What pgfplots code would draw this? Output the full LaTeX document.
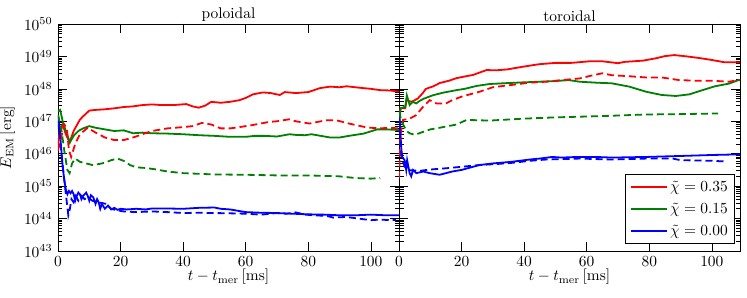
\documentclass[border=0pt]{standalone}
\usepackage{pgfplots}
\pgfplotsset{compat=1.18}
\definecolor{mred}{RGB}{255,0,0}
\definecolor{mgreen}{RGB}{0,128,0}
\definecolor{mblue}{RGB}{0,0,255}
\tikzset{sl/.style={line width=1.8bp}, dsh/.style={line width=1.8bp, dash pattern=on 7bp off 4bp}}
\newcommand{\lgdtxt}[1]{\scalebox{1.55}{#1}}
\pgfplotsset{
  myaxis/.style={
    scale only axis, width=341bp, height=227bp,
    xmin=0, xmax=109, ymin=1e43, ymax=1e50,
    xtick={0,20,40,60,80,100},
    ytick={1e43,1e44,1e45,1e46,1e47,1e48,1e49,1e50},
    tick align=inside, major tick length=9bp, minor tick length=4.5bp,
    axis line style={black, line width=0.8pt},
    every tick/.style={black, line width=0.6pt},
    tick label style={scale=1.55},
    label style={scale=1.55},
    title style={scale=1.55, yshift=-6bp},
    xlabel={$t - t_{\rm mer}\,[\rm ms]$},
    xlabel style={yshift=5bp},
  },
}
\begin{document}
\begin{tikzpicture}
\path[use as bounding box] (-58bp,-47bp) rectangle (689bp,251bp);
\begin{semilogyaxis}[myaxis, title={poloidal}, ylabel={$E_{\rm EM}\,[\rm erg]$}, ylabel style={yshift=-1bp}]
\addplot[mred, sl, no markers] coordinates {
(0,1.58e46)(0.5,5.01e46)(1.5,7.94e46)(2.5,3.98e46)(3.7,2.24e46)(5,5.01e46)(7,1.12e47)(8,1.41e47)(10,2.14e47)(12,2.24e47)(15,2.34e47)(18,2.51e47)(21,2.75e47)(24,2.88e47)(27,3.16e47)(30,3.31e47)(33,3.16e47)(37,3.16e47)(41,3.39e47)(43,2.88e47)(45,2.63e47)(47,3.02e47)(49,3.98e47)(52,3.72e47)(55,3.98e47)(58,4.47e47)(60,5.25e47)(62.3,6.76e47)(65.5,7.76e47)(68,7.41e47)(70.9,6.46e47)(72.5,7.94e47)(76,7.41e47)(80,7.94e47)(83.7,1.05e48)(87,1.17e48)(90,1.12e48)(92.3,1.20e48)(95,1.12e48)(97.7,1.05e48)(100,1.0e48)(103,9.12e47)(106,8.91e47)(108.5,8.32e47)(109,8.32e47)};
\addplot[mgreen, sl, no markers] coordinates {
(0,2.0e47)(0.7,2.24e47)(1.5,1.0e47)(2.5,5.01e46)(3.8,2.24e46)(5,3.55e46)(6.5,5.01e46)(8,6.03e46)(10,7.08e46)(12,6.31e46)(15,5.62e46)(18,5.01e46)(21,5.25e46)(24,4.27e46)(27,4.47e46)(30,4.27e46)(35,4.17e46)(40,3.98e46)(45,3.72e46)(50,3.55e46)(55,3.31e46)(60,3.31e46)(63,3.55e46)(66,3.55e46)(70,3.39e46)(74,3.98e46)(76,3.80e46)(79,3.72e46)(81,3.98e46)(84,3.55e46)(87,3.16e46)(90,3.16e46)(93,3.55e46)(97.7,4.17e46)(102,5.62e46)(105,5.62e46)(109,5.37e46)};
\addplot[mblue, sl, no markers] coordinates {
(0,1.58e47)(0.5,6.31e46)(1,1.58e46)(1.5,3.98e45)(2,1.58e45)(2.5,7.94e44)(3,5.62e44)(3.5,7.08e44)(4,6.03e44)(4.5,7.08e44)(5,5.62e44)(5.5,3.55e44)(6,5.01e44)(6.5,6.31e44)(7,5.62e44)(7.5,3.98e44)(8,5.01e44)(9,6.31e44)(9.5,5.01e44)(10,3.55e44)(10.5,5.25e44)(11.3,4.47e44)(12,2.82e44)(12.5,3.98e44)(13,3.16e44)(13.5,2.0e44)(14,2.82e44)(15,2.0e44)(16,2.51e44)(17,1.91e44)(18,2.14e44)(19,1.86e44)(20,2.0e44)(22,1.91e44)(25,2.0e44)(28,1.91e44)(30,2.04e44)(35,2.04e44)(40,2.0e44)(45,2.14e44)(50,2.19e44)(52,2.0e44)(55,1.91e44)(60,1.58e44)(65,1.51e44)(70,1.48e44)(75,1.41e44)(80,1.35e44)(85,1.32e44)(90,1.26e44)(95,1.26e44)(100,1.32e44)(105,1.26e44)(109,1.26e44)};
\addplot[mred, dsh, no markers] coordinates {
(0,1.26e46)(1,3.16e46)(2,7.94e46)(2.8,6.31e46)(3.5,1.26e46)(4.2,7.94e45)(5.5,2.0e46)(7,3.98e46)(9.5,6.31e46)(12,4.47e46)(15,3.16e46)(18,2.63e46)(21,2.63e46)(24,3.16e46)(27,3.98e46)(30,5.01e46)(35,6.03e46)(40,6.61e46)(43,7.08e46)(46,8.91e46)(49,7.94e46)(52,6.03e46)(55,6.03e46)(58,6.61e46)(62,7.59e46)(67.5,9.55e46)(70,1.0e47)(73.9,1.15e47)(76,1.0e47)(80.4,8.51e46)(83,9.55e46)(85.7,1.07e47)(89,1.07e47)(93,8.51e46)(97.7,6.76e46)(100,6.31e46)(103,6.03e46)(106,6.31e46)(109,6.03e46)};
\addplot[mgreen, dsh, no markers] coordinates {
(0,1.58e47)(1,6.31e46)(2,1.26e46)(3,3.16e45)(3.7,2.51e45)(4.5,5.01e45)(5.5,7.08e45)(7,5.62e45)(9,5.01e45)(11,4.47e45)(13,4.79e45)(15,5.25e45)(17,6.31e45)(19,7.08e45)(21,6.03e45)(23,4.47e45)(25,3.80e45)(28,3.63e45)(31,3.31e45)(35,2.82e45)(40,2.51e45)(45,2.40e45)(50,2.29e45)(60,2.24e45)(70,2.14e45)(80,2.14e45)(90,2.0e45)(95,1.78e45)(100,1.70e45)(103,1.78e45)};
\addplot[mblue, dsh, no markers] coordinates {
(0,1.0e47)(0.6,3.16e46)(1.2,7.94e45)(2,1.58e45)(2.7,3.98e44)(3.3,1.26e44)(3.8,2.0e44)(4.3,3.98e44)(5,3.16e44)(5.7,5.01e44)(6.5,3.55e44)(7.5,5.01e44)(8.5,3.98e44)(9.5,4.47e44)(11,3.55e44)(12.5,3.16e44)(14,3.02e44)(15.5,2.82e44)(17,2.0e44)(19,1.78e44)(21,1.66e44)(25,1.58e44)(30,1.66e44)(35,1.58e44)(40,1.48e44)(45,1.51e44)(50,1.48e44)(55,1.45e44)(60,1.41e44)(65,1.32e44)(70,1.48e44)(73,1.41e44)(76,1.55e44)(79,1.32e44)(82,1.26e44)(86,1.20e44)(88,1.07e44)(92,1.12e44)(96,1.0e44)(100,8.91e43)(103,9.33e43)(106,8.91e43)(108,9.12e43)};
\end{semilogyaxis}
\begin{semilogyaxis}[myaxis, at={(341bp,0)}, title={toroidal}, yticklabels={},
  legend style={at={(rel axis cs:0.986,0.03)}, anchor=south east, draw=black, line width=0.8pt, fill=white,
    row sep=6bp, inner xsep=5bp, inner ysep=5bp, legend cell align=left},
  legend image code/.code={\draw[#1, line width=1.8bp] (0bp,0bp) -- (23bp,0bp); \path (-2bp,0bp) -- (34bp,0bp);}]
\addplot[mred, sl, no markers] coordinates {
(0,1.0e47)(0.5,2.51e47)(2,2.51e47)(2.4,4.47e47)(4,3.98e47)(6,5.01e47)(7.6,7.41e47)(8.6,1.0e48)(11,1.20e48)(13,1.51e48)(16,1.78e48)(18.4,2.14e48)(21,2.40e48)(23.7,2.69e48)(28,3.80e48)(31,3.72e48)(34.6,3.98e48)(39.5,4.79e48)(44.8,5.75e48)(50,6.31e48)(55,6.31e48)(61,7.08e48)(65,7.08e48)(70,6.17e48)(72,6.76e48)(78,7.41e48)(82,8.71e48)(85,1.02e49)(88,1.10e49)(92,1.0e49)(96,8.91e48)(100,7.76e48)(104,6.61e48)(109,6.61e48)};
\addlegendentry{\lgdtxt{$\tilde{\chi}=0.35$}}
\addplot[mgreen, sl, no markers] coordinates {
(0,7.94e46)(0.5,2.51e47)(2,2.82e47)(2.5,6.31e47)(3.4,3.16e47)(4.4,3.98e47)(5.5,3.55e47)(6.6,4.27e47)(8,5.01e47)(10.8,6.31e47)(14,7.59e47)(18.4,9.12e47)(21,1.0e48)(24.8,1.23e48)(29,1.41e48)(35,1.51e48)(39.5,1.58e48)(45,1.66e48)(50,1.74e48)(54.3,1.86e48)(57.7,1.66e48)(63,1.55e48)(68,1.48e48)(73.6,1.17e48)(79,8.13e47)(84,6.46e47)(88.5,6.03e47)(92.8,6.76e47)(97,9.12e47)(101,1.20e48)(105.5,1.45e48)(108.5,1.86e48)(109,1.86e48)};
\addlegendentry{\lgdtxt{$\tilde{\chi}=0.15$}}
\addplot[mblue, sl, no markers] coordinates {
(0,2.0e47)(0.3,7.94e46)(0.7,1.58e46)(1.0,7.94e45)(1.8,6.31e45)(2.3,3.16e45)(2.6,6.31e45)(3.0,3.98e45)(3.4,2.51e45)(3.9,2.0e45)(4.5,3.16e45)(5.5,2.51e45)(7.7,2.82e45)(9.8,2.51e45)(13,2.24e45)(17,2.82e45)(20,3.16e45)(25.7,4.47e45)(30,5.01e45)(36,5.62e45)(41.7,6.61e45)(45,7.08e45)(49,7.94e45)(52,7.59e45)(57,7.94e45)(63,7.94e45)(68,7.59e45)(79,7.94e45)(90,8.51e45)(100,9.12e45)(109,9.55e45)};
\addlegendentry{\lgdtxt{$\tilde{\chi}=0.00$}}
\addplot[mred, dsh, no markers, forget plot] coordinates {
(0,1.74e45)(0.5,3.98e46)(1.3,1.10e47)(3.4,1.20e47)(5.5,1.55e47)(7.7,2.82e47)(9.8,4.47e47)(12,3.55e47)(15,3.55e47)(17,4.47e47)(20,5.75e47)(25.7,8.13e47)(30,1.12e48)(36,1.32e48)(41.7,1.55e48)(47,1.66e48)(52,1.86e48)(57.7,2.09e48)(62,2.63e48)(65,3.02e48)(68,2.63e48)(73.6,2.45e48)(79,2.24e48)(84,2.24e48)(89.6,1.86e48)(95,1.78e48)(100,1.78e48)(105.5,1.66e48)(108.5,1.86e48)(109,1.86e48)};
\addplot[mgreen, dsh, no markers, forget plot] coordinates {
(0,2.0e47)(0.8,1.0e47)(2.4,5.01e46)(3.4,4.27e46)(5,3.80e46)(7.6,4.68e46)(10,5.62e46)(13,6.31e46)(18.4,7.94e46)(21.6,1.10e47)(29,1.05e47)(39.5,1.20e47)(50,1.32e47)(61,1.41e47)(68,1.48e47)(79,1.62e47)(89.6,1.66e47)(102,1.74e47)};
\addplot[mblue, dsh, no markers, forget plot] coordinates {
(0,1.26e47)(0.8,7.94e45)(1.8,3.98e45)(3.4,3.09e45)(6.6,2.95e45)(9.8,3.24e45)(15,3.55e45)(20.4,3.98e45)(25.7,4.47e45)(31,4.79e45)(36.4,5.25e45)(41.7,6.03e45)(47,6.61e45)(57.7,7.08e45)(68,6.61e45)(79,7.08e45)(87.5,7.08e45)(90,6.31e45)(100,6.03e45)(104.5,5.75e45)};
\end{semilogyaxis}
\end{tikzpicture}
\end{document}
